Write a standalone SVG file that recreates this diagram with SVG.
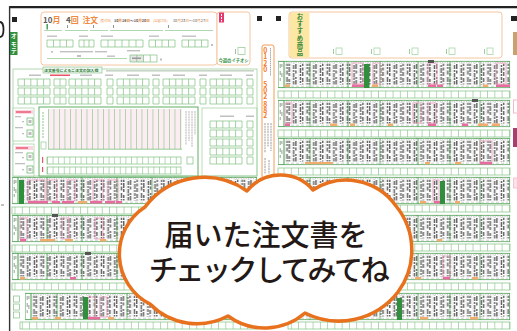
<svg xmlns="http://www.w3.org/2000/svg" width="517" height="331" viewBox="0 0 517 331">
<style>
.jp{font-family:"Noto Sans CJK JP","Noto Sans",sans-serif}
.vt{writing-mode:vertical-rl}
.gln{fill:none;stroke:#7fbf7f;stroke-width:0.7}
.pko{fill:none;stroke:#ef9fc0;stroke-width:0.8}
.pt{fill:#e86ca0}
.ot{fill:#f4ab6e}
.gb{fill:#2f8f3c}
.dk{fill:#8a8a8a}
.lt{fill:#c0c0c0}
.rd{fill:#e8556a}
.pe{fill:#fff;stroke:#f5c6a2;stroke-width:1}
</style>
<defs>
<pattern id="tp" width="20.1" height="16" patternUnits="userSpaceOnUse">
<path d="M0.25 0V16M6.95 0V16M13.65 0V16" stroke="#d6d6d6" stroke-width="0.5"/>
<path fill="#666" d="M1.6 0h1.5v3h-1.5z M1.6 4h1.5v2h-1.5z M1.6 7h1.5v5h-1.5z M1.6 13h1.5v2h-1.5z M3.8 1h1.5v4h-1.5z M3.8 6.5h1.5v3h-1.5z M3.8 11h1.5v4h-1.5z M8.3 0h1.5v5h-1.5z M8.3 6h1.5v2h-1.5z M8.3 9.5h1.5v4h-1.5z M10.5 2h1.5v3h-1.5z M10.5 6h1.5v5h-1.5z M10.5 12h1.5v3h-1.5z M15 0.5h1.5v2.5h-1.5z M15 4h1.5v4h-1.5z M15 9h1.5v2h-1.5z M15 12h1.5v4h-1.5z M17.2 0h1.5v2h-1.5z M17.2 3h1.5v5h-1.5z M17.2 9.5h1.5v3h-1.5z"/>
</pattern>
<pattern id="vl" width="7.27" height="8" patternUnits="userSpaceOnUse"><path d="M0.35 0V8" stroke="#7fbf7f" stroke-width="0.7"/></pattern>
<pattern id="vs" x="47" width="5.6" height="8" patternUnits="userSpaceOnUse"><path d="M0.35 0V8" stroke="#7fbf7f" stroke-width="0.7"/></pattern>
<pattern id="stripe" x="48" width="5.5" height="10" patternUnits="userSpaceOnUse"><rect width="5.5" height="10" fill="#fcedf3"/><path d="M0.4 0V10" stroke="#94ca94" stroke-width="0.8"/></pattern>
<g id="b5" fill="none" stroke="#7fbf7f" stroke-width="0.7"><path d="M0 0h32v7h-32z M6.4 0v7 M12.8 0v7 M19.2 0v7 M25.6 0v7"/></g>
<g id="b1" fill="none" stroke="#7fbf7f" stroke-width="0.7"><path d="M0 0h6v7h-6z"/></g>
<g id="b2" fill="none" stroke="#7fbf7f" stroke-width="0.7"><path d="M0 0h12v7h-12z M6 0v7"/></g>
<g id="b3" fill="none" stroke="#7fbf7f" stroke-width="0.7"><path d="M0 0h15v7h-15z M5 0v7 M10 0v7"/></g>
<g id="b4" fill="none" stroke="#7fbf7f" stroke-width="0.7"><path d="M0 0h26v7h-26z M6.5 0v7 M13 0v7 M19.5 0v7"/></g>
<g id="b6" fill="none" stroke="#7fbf7f" stroke-width="0.7"><path d="M0 0h42v7h-42z M7 0v7 M14 0v7 M21 0v7 M28 0v7 M35 0v7"/></g>
<g id="orow">
<use href="#b5" x="18"/><use href="#b2" x="54"/><use href="#b5" x="69"/><use href="#b1" x="107"/><use href="#b5" x="117"/><use href="#b1" x="153"/><use href="#b5" x="163"/><use href="#b1" x="200"/><use href="#b5" x="210"/><use href="#b1" x="247"/>
</g>
<g id="pr">
<rect x="6" y="0" width="226" height="27" fill="url(#tp)"/>
<rect x="6" y="0.5" width="226" height="2.2" fill="#fff"/>
<path d="M8 1.6h222" stroke="#c8c8c8" stroke-width="0.9" stroke-dasharray="1.2 1.2"/>
<rect x="6" y="23.5" width="226" height="3.5" fill="#fff"/>
<path d="M8 25.2h222" stroke="#d0d0d0" stroke-width="1" stroke-dasharray="3 2"/>
<rect x="0.4" y="0.4" width="5.6" height="26.2" fill="#fff" stroke="#7fbf7f" stroke-width="0.7"/>
<path d="M2.2 3v4M2.2 10v4M2.2 17v3M3.9 3v3M3.9 12v4" stroke="#9a9a9a" stroke-width="1"/>
<path d="M0 0.4H232M0 26.6H232M6 0V27M32 0V27M70 0V27M102 0V27M140 0V27M172 0V27M202 0V27M231.6 0V27" fill="none" stroke="#55a55a" stroke-width="0.8"/>
</g>
<g id="prL">
<rect x="6" y="0" width="239" height="27" fill="url(#tp)"/>
<rect x="6" y="0.5" width="239" height="2.2" fill="#fff"/>
<path d="M8 1.6h235" stroke="#c8c8c8" stroke-width="0.9" stroke-dasharray="1.2 1.2"/>
<rect x="6" y="23.5" width="239" height="3.5" fill="#fff"/>
<path d="M8 25.2h235" stroke="#d0d0d0" stroke-width="1" stroke-dasharray="3 2"/>
<rect x="0.4" y="0.4" width="5.6" height="26.2" fill="#fff" stroke="#7fbf7f" stroke-width="0.7"/>
<path d="M2.2 3v4M2.2 10v4M2.2 17v3M3.9 3v3M3.9 12v4" stroke="#9a9a9a" stroke-width="1"/>
<path d="M0 0.4H245M0 26.6H245M6 0V27M35 0V27M70 0V27M105 0V27M140 0V27M175 0V27M210 0V27M244.6 0V27" fill="none" stroke="#55a55a" stroke-width="0.8"/>
</g>
</defs>

<rect width="517" height="331" fill="#fff"/>

<g id="frame">
<path d="M9 7.2H517" stroke="#222" stroke-width="2.2"/>
<path d="M9.6 6V331" stroke="#333" stroke-width="1.4"/>
<path d="M0 22C2.5 22 3.5 26 3.5 29.5C3.5 33 2.5 37 0 37" fill="none" stroke="#222" stroke-width="1.8"/>
<path d="M1 205H4" stroke="#666" stroke-width="0.8"/>
<rect x="12" y="17" width="5" height="5" fill="#222"/>
<rect x="257" y="16" width="5" height="5" fill="#222"/>
<rect x="276" y="16" width="5" height="5" fill="#222"/>
<rect x="511" y="16" width="6" height="5" fill="#222"/>
<rect x="513" y="32" width="4" height="23" fill="#c9a070"/>
<rect x="513.5" y="100" width="4" height="13" fill="#fff" stroke="#f0a8c4" stroke-width="0.8"/>
<rect x="513" y="128" width="4" height="19" fill="#a6406f"/>
<rect x="513.5" y="178" width="4" height="10" fill="#fbe3ec" stroke="#f0a8c4" stroke-width="0.6"/>
</g>

<g id="omote-tab">
<rect x="10" y="32" width="7.5" height="23" fill="#2f8f3c"/>
<text class="jp vt" x="13.8" y="33" font-size="6" font-weight="700" fill="#fff" letter-spacing="1.4">オモテ</text>
</g>

<g id="header">
<rect x="41" y="12" width="176" height="53" rx="3" class="pe"/>
<text class="jp" x="43" y="23" font-size="8" font-weight="700" fill="#5a5a5a">10<tspan fill="#f08a3c">月</tspan></text>
<text class="jp" x="66" y="23" font-size="8" font-weight="700" fill="#5a5a5a">4<tspan fill="#f08a3c">回</tspan></text>
<text class="jp" x="82.5" y="23" font-size="7.8" font-weight="700" fill="#f08a3c">注文</text>
<text class="jp" x="100" y="21.5" font-size="3.1" fill="#f08a3c">(受付日)</text>
<text class="jp" x="114" y="21.8" font-size="3.7" font-weight="700" fill="#555">10<tspan fill="#f08a3c">月</tspan>16<tspan fill="#f08a3c">日</tspan>～10<tspan fill="#f08a3c">月</tspan>20<tspan fill="#f08a3c">日</tspan></text>
<text class="jp" x="153" y="21.5" font-size="3.1" fill="#f08a3c">(お届け日)</text>
<text class="jp" x="173" y="21.8" font-size="3.8" fill="#555">10<tspan fill="#f08a3c">月</tspan>23<tspan fill="#f08a3c">日</tspan>～10<tspan fill="#f08a3c">月</tspan>27<tspan fill="#f08a3c">日</tspan></text>
<rect x="46.5" y="24" width="1.4" height="5.5" fill="#3a9a4a"/>
<rect x="67" y="25" width="0.9" height="3" class="dk"/>
<rect x="93" y="25" width="0.9" height="3" class="dk"/>
<rect x="113" y="25" width="0.9" height="3" class="dk"/>
<rect x="168" y="25" width="0.9" height="3" class="dk"/>
<path d="M44 30.5H62M65 30.5H88M90 30.5H108M110 30.5H163M165 30.5H213" stroke="#8fc88f" stroke-width="0.7"/>
<rect x="47" y="35.5" width="10" height="1.4" class="lt"/>
<rect x="79" y="35.5" width="9" height="1.4" class="lt"/>
<rect x="101" y="35.5" width="12" height="1.4" class="lt"/>
<rect x="149" y="35.5" width="10" height="1.4" class="lt"/>
<rect x="182" y="35.5" width="14" height="1.4" class="lt"/>
<use href="#b4" x="47" y="40"/>
<use href="#b3" x="79" y="40"/>
<use href="#b6" x="101" y="40"/>
<use href="#b4" x="149" y="40"/>
<use href="#b4" x="182" y="40"/>
<rect x="211" y="44" width="2" height="2" class="lt"/>
<rect x="51" y="51" width="2" height="1.6" class="lt"/>
<rect x="60" y="51" width="33" height="1.4" class="lt"/>
<rect x="95" y="51" width="12" height="1.4" class="lt"/>
<rect x="127" y="50" width="13" height="1.4" class="lt"/>
<path d="M47 58.5H127" stroke="#8fc88f" stroke-width="0.7"/>
<rect x="77" y="55" width="4" height="2" class="lt"/>
<rect x="107" y="55.5" width="8" height="1.4" class="lt"/>
<rect x="130" y="55" width="13.5" height="7" fill="#e6e6e6"/>
<path d="M130 55h27v7h-27z M136.75 55v7 M143.5 55v7 M150.25 55v7" fill="none" stroke="#7fbf7f" stroke-width="0.7"/>
<rect x="132" y="57.5" width="9" height="1.5" fill="#999"/>
<rect x="160" y="58.5" width="2" height="2" class="lt"/>
</g>

<g id="ichioshi">
<rect x="217" y="12" width="33" height="53" rx="3" class="pe"/>
<rect x="219" y="12.5" width="5" height="10" fill="#e63a6e"/>
<path d="M221.5 14v2M221.5 17v2M221.5 20v1.5" stroke="#fff" stroke-width="1"/>
<rect x="235" y="49" width="0.9" height="5" fill="#aaa"/>
<rect x="238" y="47.5" width="7" height="7" fill="none" stroke="#9fcf9f" stroke-width="0.8"/>
<text class="jp" x="218.5" y="62" font-size="4.3" font-weight="700" fill="#2f8f3c">今週のイチオシ</text>
</g>

<g id="osusume">
<rect x="289" y="12" width="213" height="46" rx="3" class="pe"/>
<path d="M292 12.5H309.5V57.5H292A2.5 2.5 0 0 1 289.5 55V15A2.5 2.5 0 0 1 292 12.5Z" fill="#fce8a4"/>
<text class="jp vt" x="300" y="13.5" font-size="6.3" font-weight="700" fill="#3a8a3a" letter-spacing="0.9">おすすめ商品</text>
<g fill="none" stroke="#a8d8a8" stroke-width="0.8">
<rect x="336" y="48" width="6" height="6.5"/><rect x="374" y="48" width="6" height="6.5"/><rect x="412" y="48" width="6" height="6.5"/><rect x="449" y="48" width="6" height="6.5"/><rect x="487" y="48" width="6" height="6.5"/>
</g>
<g fill="#9fcf9f"><rect x="333" y="49" width="1" height="5"/><rect x="371" y="49" width="1" height="5"/><rect x="409" y="49" width="1" height="5"/><rect x="446" y="49" width="1" height="5"/><rect x="484" y="49" width="1" height="5"/></g>
</g>

<g id="phone">
<rect x="262" y="45" width="12" height="133" rx="2" fill="#fff" stroke="#f39a5a" stroke-width="1"/>
<text class="jp" transform="translate(263.3 52.5) rotate(90)" x="0 6.5 13 19.5 26 34.5 40.5 46.5 53 54.5 60 65.5" y="0" rotate="-90" font-size="6.8" font-weight="700" fill="#ef7a28">0120 502 882</text>
<path d="M270.5 48v28" stroke="#aaa" stroke-width="1" stroke-dasharray="1.5 0.6"/>
<path d="M265 123v30M268 123v24M271 123v28M265 158v16M269 160v14" stroke="#b5b5b5" stroke-width="1.3" stroke-dasharray="2 0.7"/>
</g>

<g id="order-section">
<rect x="13" y="69" width="244" height="107" fill="none" stroke="#9fcf9f" stroke-width="0.8"/>
<rect x="43" y="67" width="59" height="6" fill="#f2f6f2" stroke="#7fbf7f" stroke-width="0.6"/>
<text class="jp" x="44" y="71.8" font-size="3.9" font-weight="700" fill="#2f7f3a">注文番号によるご注文の記入欄</text>
<rect x="106" y="70" width="148" height="1.6" fill="#c8d4c8"/>
<g class="lt"><rect x="29" y="74.5" width="12" height="1.5"/><rect x="80" y="74.5" width="12" height="1.5"/><rect x="105" y="74.5" width="8" height="1.5"/><rect x="127" y="74.5" width="12" height="1.5"/><rect x="152" y="74.5" width="8" height="1.5"/><rect x="173" y="74.5" width="12" height="1.5"/><rect x="199" y="74.5" width="8" height="1.5"/><rect x="220" y="74.5" width="12" height="1.5"/><rect x="246" y="74.5" width="7" height="1.5"/></g>
<rect x="50" y="74.5" width="20" height="1.5" class="rd"/>
<use href="#orow" y="79"/>
<use href="#orow" y="88"/>
<use href="#orow" y="97"/>
</g>

<g id="left-panels">
<rect x="13" y="108" width="21" height="33" fill="#fff" stroke="#9fcf9f" stroke-width="0.7"/>
<rect x="15" y="110" width="18" height="4" fill="#fbd5e2"/>
<rect x="16" y="111.3" width="15" height="1.4" class="rd"/>
<rect x="15" y="116" width="6" height="1.3" class="lt"/><rect x="22" y="121" width="2" height="1.3" class="lt"/>
<rect x="15" y="127" width="8" height="1.3" class="lt"/><rect x="22" y="133" width="2" height="1.3" class="lt"/>
<rect x="27" y="118" width="6" height="7" fill="none" stroke="#5faf63" stroke-width="0.7"/>
<rect x="27" y="130" width="6" height="7" fill="none" stroke="#5faf63" stroke-width="0.7"/>
<path d="M28.5 120h3v3h-3zM28.5 132h3v3h-3z" fill="#bbb"/>
<rect x="13" y="144" width="21" height="32" fill="#fff" stroke="#9fcf9f" stroke-width="0.7"/>
<rect x="15" y="146" width="18" height="4" fill="#fbd5e2"/>
<rect x="16" y="147.3" width="12" height="1.4" class="rd"/>
<rect x="15" y="152" width="8" height="1.3" class="lt"/><rect x="22" y="157" width="2" height="1.3" class="lt"/>
<rect x="15" y="163" width="10" height="1.3" class="lt"/><rect x="22" y="169" width="2" height="1.3" class="lt"/>
<rect x="27" y="153" width="6" height="7" fill="none" stroke="#5faf63" stroke-width="0.7"/>
<rect x="27" y="166" width="6" height="7" fill="none" stroke="#5faf63" stroke-width="0.7"/>
<path d="M28.5 155h3v3h-3zM28.5 168h3v3h-3z" fill="#bbb"/>
</g>

<g id="center-panel">
<rect x="39" y="107" width="159" height="69" fill="#fff" stroke="#5faf63" stroke-width="1"/>
<rect x="48" y="109" width="134" height="40" fill="url(#stripe)"/>
<path d="M48 149.2H182" stroke="#7fbf7f" stroke-width="0.8"/>
<path d="M43 112v26" stroke="#9fcf9f" stroke-width="1.2" stroke-dasharray="2 1"/>
<rect x="41" y="142" width="5" height="7" fill="none" stroke="#7fbf7f" stroke-width="0.6"/>
<path d="M186 111v34M189 111v30M192 111v36M195 111v24" stroke="#c4c4c4" stroke-width="1.2" stroke-dasharray="2 0.6"/>
<rect x="47" y="157" width="134" height="7" fill="url(#vs)"/>
<rect x="47" y="157" width="134" height="7" class="gln"/>
<rect x="47" y="167" width="134" height="7" fill="url(#vs)"/>
<rect x="47" y="167" width="134" height="7" class="gln"/>
<rect x="187" y="157" width="6" height="7" class="gln"/>
<rect x="42" y="157" width="1.2" height="6" class="rd"/>
<rect x="42" y="167" width="1.2" height="5" class="rd"/>
</g>

<g id="right-subsection">
<rect x="202" y="108" width="55" height="68" fill="none" stroke="#9fcf9f" stroke-width="0.7"/>
<rect x="220" y="115.5" width="14" height="1.5" class="lt"/>
<rect x="246" y="115.5" width="8" height="1.5" class="lt"/>
<use href="#b5" x="210" y="121"/><use href="#b1" x="247" y="121"/>
<use href="#b5" x="210" y="130"/><use href="#b1" x="247" y="130"/>
<use href="#b5" x="210" y="139"/><use href="#b1" x="247" y="139"/>
<use href="#b5" x="210" y="148"/><use href="#b1" x="247" y="148"/>
<use href="#b5" x="210" y="157"/><use href="#b1" x="247" y="157"/>
</g>

<g id="right-grid">
<use href="#pr" x="278" y="61"/>
<use href="#pr" x="278" y="100"/>
<use href="#pr" x="278" y="138"/>
<use href="#pr" x="278" y="177"/>
<use href="#pr" x="278" y="215"/>
<use href="#pr" x="278" y="253"/>
<use href="#pr" x="278" y="293"/>
<g>
<rect x="278" y="91" width="232" height="7" fill="url(#vl)"/><rect x="278" y="91" width="232" height="7" class="gln"/>
<rect x="278" y="130" width="232" height="7" fill="url(#vl)"/><rect x="278" y="130" width="232" height="7" class="gln"/>
<rect x="278" y="168" width="232" height="7" fill="url(#vl)"/><rect x="278" y="168" width="232" height="7" class="gln"/>
<rect x="278" y="205" width="232" height="7" fill="url(#vl)"/><rect x="278" y="205" width="232" height="7" class="gln"/>
<rect x="278" y="244" width="232" height="7" fill="url(#vl)"/><rect x="278" y="244" width="232" height="7" class="gln"/>
<rect x="278" y="283" width="232" height="7" fill="url(#vl)"/><rect x="278" y="283" width="232" height="7" class="gln"/>
<rect x="288" y="322" width="222" height="7" fill="url(#vl)"/><rect x="288" y="322" width="222" height="7" class="gln"/>
</g>
<g class="pko">
<rect x="352" y="63" width="11" height="21"/><rect x="373" y="63" width="7" height="21"/><rect x="428" y="63" width="9" height="21"/><rect x="496" y="63" width="10" height="21"/>
<rect x="285" y="103" width="7" height="20"/><rect x="413" y="103" width="8" height="20"/><rect x="428" y="103" width="8" height="20"/>
<rect x="480" y="141" width="12" height="21"/>
<rect x="433" y="180" width="6" height="21"/>
<rect x="443" y="256" width="7" height="21"/>
</g>
<g class="pt">
<rect x="352" y="84.5" width="14" height="2.5"/><rect x="428" y="84.5" width="8" height="2.5"/><rect x="437" y="84.5" width="6" height="2.5"/><rect x="496" y="84.5" width="14" height="2.5"/>
<rect x="285" y="123.5" width="5" height="2.5"/><rect x="428" y="123.5" width="8" height="2.5"/><rect x="462" y="123.5" width="6" height="2.5"/>
<rect x="480" y="162" width="12" height="2.5"/>
<rect x="434" y="201" width="6" height="2.5"/>
<rect x="384" y="239" width="5" height="2.5"/>
<rect x="443" y="277" width="7" height="2.5"/>
</g>
<g class="ot">
<rect x="285" y="84.5" width="5" height="2.5"/><rect x="372" y="84.5" width="6" height="2.5"/><rect x="483" y="84.5" width="5" height="2.5"/>
<rect x="330" y="123.5" width="7" height="2.5"/><rect x="350" y="123.5" width="5" height="2.5"/><rect x="388" y="123.5" width="5" height="2.5"/><rect x="478" y="123.5" width="10" height="2.5"/><rect x="492" y="123.5" width="8" height="2.5"/>
<rect x="305" y="162" width="28" height="2.2"/><rect x="425" y="162" width="5" height="2.2"/><rect x="455" y="162" width="6" height="2.2"/>
<rect x="420" y="201" width="6" height="2.5"/><rect x="455" y="201" width="5" height="2.5"/>
<rect x="395" y="239" width="6" height="2.5"/><rect x="437" y="239" width="5" height="2.5"/>
<rect x="415" y="277" width="6" height="2.5"/><rect x="472" y="277" width="6" height="2.5"/>
<rect x="420" y="317" width="8" height="2.5"/><rect x="470" y="317" width="8" height="2.5"/>
</g>
<g class="gb">
<rect x="364" y="64" width="5.5" height="24"/>
<rect x="440" y="181" width="5" height="23"/>
<rect x="397" y="298" width="5" height="22"/>
</g>
<g fill="#555"><rect x="428" y="60" width="6" height="3"/><rect x="472" y="99" width="6" height="3"/></g>
</g>

<g id="left-grid">
<use href="#prL" x="12" y="177"/>
<use href="#prL" x="12" y="215"/>
<use href="#prL" x="12" y="253"/>
<use href="#pr" x="25" y="293"/>
<rect x="12" y="207" width="245" height="7" fill="url(#vl)"/><rect x="12" y="207" width="245" height="7" class="gln"/>
<rect x="12" y="245" width="245" height="7" fill="url(#vl)"/><rect x="12" y="245" width="245" height="7" class="gln"/>
<rect x="12" y="283" width="245" height="7" fill="url(#vl)"/><rect x="12" y="283" width="245" height="7" class="gln"/>
<rect x="20" y="322" width="237" height="7" fill="url(#vl)"/><rect x="20" y="322" width="237" height="7" class="gln"/>
<rect x="13.5" y="296" width="6" height="6" class="gln"/><rect x="13.5" y="304" width="6" height="6" class="gln"/><rect x="13.5" y="312" width="6" height="6" class="gln"/>
<g class="pko">
<rect x="28" y="180" width="17" height="21"/><rect x="47" y="180" width="10" height="21"/><rect x="67" y="180" width="8" height="21"/><rect x="93" y="180" width="10" height="21"/><rect x="108" y="180" width="10" height="21"/>
<rect x="20" y="218" width="7" height="21"/><rect x="62" y="218" width="7" height="21"/><rect x="95" y="218" width="8" height="21"/>
<rect x="88" y="297" width="7" height="20"/><rect x="100" y="297" width="7" height="20"/>
</g>
<g class="pt">
<rect x="28" y="201" width="20" height="2.5"/><rect x="52" y="201" width="8" height="2.5"/><rect x="62" y="201" width="12" height="2.5"/><rect x="90" y="201" width="12" height="2.5"/><rect x="105" y="201" width="10" height="2.5"/><rect x="116" y="201" width="6" height="2.5"/>
<rect x="20" y="239" width="6" height="2.5"/>
<rect x="70" y="277" width="6" height="2.5"/>
<rect x="88" y="317" width="12" height="2.5"/>
</g>
<g class="ot">
<rect x="78" y="201" width="9" height="2.5"/>
<rect x="40" y="239" width="15" height="2.5"/><rect x="65" y="239" width="8" height="2.5"/><rect x="100" y="239" width="6" height="2.5"/>
<rect x="20" y="277" width="5" height="2.5"/>
<rect x="32" y="317" width="6" height="2.5"/><rect x="55" y="317" width="6" height="2.5"/><rect x="108" y="317" width="6" height="2.5"/>
</g>
<g class="gb"><rect x="19" y="180" width="5" height="24"/><rect x="83" y="297" width="5" height="22"/></g>
<g fill="#555"><rect x="52" y="214" width="6" height="3"/><rect x="85" y="252" width="6" height="3"/></g>
</g>

<g id="cloud">
<path d="M145,207 A74,74 0 0 1 247,191 A43,43 0 0 1 313,190 A61,61 0 0 1 396,206 A70,70 0 0 1 398,292 A75,75 0 0 1 305,313 A62,62 0 0 1 228,316 A66,66 0 0 1 150,304 A56,56 0 0 1 145,207 Z" fill="#fff" stroke="#e8711d" stroke-width="3.5" stroke-linejoin="round"/>
<text class="jp" font-size="29" font-weight="500" fill="#231815" text-anchor="middle"><tspan x="266" y="246">届いた注文書を</tspan><tspan x="268" y="281" letter-spacing="-2.4">チェックしてみてね</tspan></text>
</g>
</svg>
